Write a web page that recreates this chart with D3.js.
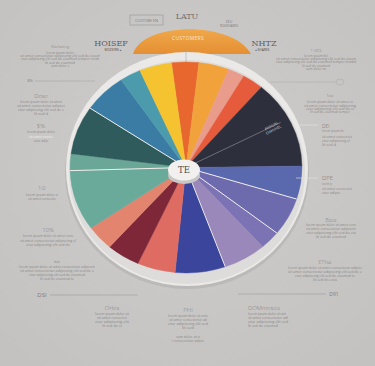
<!DOCTYPE html>
<html><head><meta charset="utf-8">
<script src="https://cdn.jsdelivr.net/npm/d3@7"></script>
<style>html,body{margin:0;padding:0;background:#c9c7c6;}svg{display:block;font-family:"Open Sans",sans-serif;}</style>
</head><body>
<script>
// ---- data ----
const categories = ["Orange","Amber","Blush","Vermilion","Midnight","Indigo","Violet","Iris","Lavender","Royal","Coral","Maroon","Salmon","Sage","Sage II","Pine","Steel","Lagoon","Sun"];
const values = [13.6,15.2,8.3,10.6,48.7,18.2,21.0,10.2,21.6,25.2,19.1,16.7,13.8,33.3,9.2,26.7,21.8,10.6,16.2];
const sliceColors = ["#e8672e","#f2a23a","#e99c8c","#e65b3c","#2d2f3c","#5a68ad","#6d6aae","#7b73b4","#9a88bb","#3a459b","#df6c62","#7d2739","#e3846f","#6aaa9b","#6ba797","#2f5b5c","#3b7ca4","#4b9bac","#f5c330"];
const whiteSplitAfter = ["Indigo","Violet","Lavender","Sage","Pine"];
const hubLabel = "TE";
const capLabel = "CUSTOMERS";
const headTitles = ["LATU","HOISEF","NHTZ"];
const noteTitles = ["Marketing","8%","Dese","$%","1/2","10%","dat","DSI","Orles","PHI","DOMmesea","D91","ETYsa","Baca","DPE","DEI","1 VIES","Total"];
const filler = "lorem ipsum dolor sit amet consectetur adipiscing elit sed do eiusmod tempor incididunt ut labore et dolore magna aliqua";

// ---- layout ----
const W = 375, H = 366;
const svg = d3.select("body").append("svg").attr("width", W).attr("height", H);
const defs = svg.append("defs");
const bg = defs.append("radialGradient").attr("id","bg").attr("cx","50%").attr("cy","45%").attr("r","70%");
bg.append("stop").attr("offset","0%").attr("stop-color","#cfcdcc");
bg.append("stop").attr("offset","100%").attr("stop-color","#c4c2c1");
svg.append("rect").attr("width",W).attr("height",H).attr("fill","url(#bg)");

const capG = defs.append("linearGradient").attr("id","cap").attr("x1",0).attr("y1",0).attr("x2",0).attr("y2",1);
capG.append("stop").attr("offset","0%").attr("stop-color","#efa84a");
capG.append("stop").attr("offset","100%").attr("stop-color","#e58f33");

const cx = 186, cy = 167.5, R = 116, sy = 0.91;

// orange cap
svg.append("path").attr("d","M133,54 C142,22 232,20 251,54 Z").attr("fill","url(#cap)");
svg.append("text").attr("x",188).attr("y",40).attr("text-anchor","middle").attr("font-size",5).attr("fill","#fbe3c4").attr("letter-spacing",0.3).text(capLabel);

// ring shadow + ring
svg.append("ellipse").attr("cx",187).attr("cy",173).attr("rx",122).attr("ry",116).attr("fill","#b5b3b1").attr("opacity",0.7);
svg.append("ellipse").attr("cx",187).attr("cy",169).attr("rx",121).attr("ry",117).attr("fill","#eae9e7");
svg.append("ellipse").attr("cx",187).attr("cy",172).attr("rx",118).attr("ry",112).attr("fill","#dddcda");
svg.append("line").attr("x1",186).attr("y1",50).attr("x2",186).attr("y2",62).attr("stroke","#a9a7a5").attr("stroke-width",0.6);

// pie
const pie = d3.pie().sort(null).value(d => d.v)
  .startAngle(-7.2 * Math.PI/180).endAngle(352.8 * Math.PI/180);
const arcs = pie(categories.map((c,i) => ({c, v: values[i], col: sliceColors[i]})));
const arc = d3.arc().innerRadius(0).outerRadius(R);
const pg = svg.append("g").attr("transform",`translate(${cx},${cy}) scale(1,${sy})`);
pg.selectAll("path.slice").data(arcs).join("path").attr("class","slice")
  .attr("d", arc).attr("fill", d => d.data.col).attr("stroke", d => d.data.col).attr("stroke-width",0.4);
pg.selectAll("line.split").data(arcs.filter(d => whiteSplitAfter.includes(d.data.c))).join("line").attr("class","split")
  .attr("x1",0).attr("y1",0)
  .attr("x2", d => R*Math.sin(d.endAngle)).attr("y2", d => -R*Math.cos(d.endAngle))
  .attr("stroke","#f4f2ef").attr("stroke-width",1);
// annotation line in dark slice
const mid = arcs[4];
const a4 = mid.startAngle + (mid.endAngle-mid.startAngle)*0.45;
pg.append("line").attr("x1",0).attr("y1",0).attr("x2",R*0.92*Math.sin(a4)).attr("y2",-R*0.92*Math.cos(a4)).attr("stroke","#9a9aa4").attr("stroke-width",0.6);
svg.append("text").attr("transform","translate(272,127) rotate(-27)").attr("text-anchor","middle").attr("font-size",3.6).attr("fill","#e6e6ea").text("ANNUAL");
svg.append("text").attr("transform","translate(274,131) rotate(-27)").attr("text-anchor","middle").attr("font-size",3.6).attr("fill","#e6e6ea").text("CHANNEL");

// hub
svg.append("ellipse").attr("cx",184).attr("cy",175).attr("rx",16).attr("ry",9).attr("fill","#c9c7c5");
svg.append("ellipse").attr("cx",184).attr("cy",170).attr("rx",16).attr("ry",10.5).attr("fill","#f1f0ee");
svg.append("text").attr("x",184).attr("y",173).attr("text-anchor","middle").attr("font-size",8.5).attr("font-family","DejaVu Serif").attr("fill","#4a4a4a").text(hubLabel);

// ---- annotations ----
const txtCol = "#7d7b79", lineCol = "#8a8886";
function note(x, y, title, tsize, lines, anchor, opts={}) {
  const g = svg.append("g");
  g.append("text").attr("x",x).attr("y",y).attr("text-anchor",anchor).attr("font-size",tsize)
    .attr("fill", opts.tcol || txtCol).attr("font-weight",300).text(title);
  lines.forEach((l,i) => {
    const [dy, w] = l;
    const lx = anchor === "middle" ? x - w/2 : (anchor === "end" ? x - w : x);
    g.append("text").attr("x",lx).attr("y",y+dy).attr("font-size",2.6)
      .attr("fill", l[2] || lineCol).attr("textLength",w).attr("lengthAdjust","spacingAndGlyphs")
      .text(filler.slice((i*17)%60, (i*17)%60 + Math.max(8, Math.round(w/1.6))));
  });
}
// top heads
svg.append("rect").attr("x",130).attr("y",15).attr("width",33).attr("height",10).attr("fill","none").attr("stroke","#8d8b89").attr("stroke-width",0.5);
svg.append("text").attr("x",146.5).attr("y",22).attr("text-anchor","middle").attr("font-size",4).attr("fill",txtCol).text("CUSTOM EN");
svg.append("text").attr("x",187).attr("y",19).attr("text-anchor","middle").attr("font-size",8).attr("font-family","DejaVu Serif").attr("fill","#6f6d6b").text(headTitles[0]);
svg.append("text").attr("x",229).attr("y",23).attr("text-anchor","middle").attr("font-size",3.5).attr("fill",txtCol).text("ZEU");
svg.append("text").attr("x",229).attr("y",27).attr("text-anchor","middle").attr("font-size",3.2).attr("fill",txtCol).text("ROKSHARES");
svg.append("text").attr("x",111).attr("y",46).attr("text-anchor","middle").attr("font-size",8).attr("font-family","DejaVu Serif").attr("fill","#5f5d5b").text(headTitles[1]);
svg.append("text").attr("x",113).attr("y",51).attr("text-anchor","middle").attr("font-size",3.3).attr("fill","#4f4d4b").text("MODERN  ▸");
svg.append("text").attr("x",264).attr("y",46).attr("text-anchor","middle").attr("font-size",8).attr("font-family","DejaVu Serif").attr("fill","#5f5d5b").text(headTitles[2]);
svg.append("text").attr("x",262).attr("y",51).attr("text-anchor","middle").attr("font-size",3.3).attr("fill","#4f4d4b").text("◂  SHARES");

// left column
note(60,48,noteTitles[0],4,[[6,28],[9,80],[12,78],[16,30],[19,18]],"middle");
svg.append("text").attr("x",30).attr("y",82).attr("font-size",4).attr("fill",txtCol).attr("text-anchor","middle").text(noteTitles[1]);
svg.append("line").attr("x1",35).attr("y1",81).attr("x2",95).attr("y2",81).attr("stroke","#a8a6a4").attr("stroke-width",0.6);
note(41,98,noteTitles[2],6,[[5,42],[9,48],[13,46],[17,14]],"middle");
note(41,128,noteTitles[3],6,[[5,28],[10,24,"#f2f1ef"],[14,14]],"middle");
note(42,190,noteTitles[4],5,[[6,32],[10,28]],"middle");
note(48,232,noteTitles[5],6,[[5,50],[10,56],[14,44]],"middle");
note(57,263,noteTitles[6],4,[[5,76],[9,74],[13,56],[17,34]],"middle");
svg.append("text").attr("x",42).attr("y",297).attr("font-size",6).attr("fill",txtCol).attr("text-anchor","middle").text(noteTitles[7]);
svg.append("line").attr("x1",50).attr("y1",295).attr("x2",138).attr("y2",295).attr("stroke","#a3a19f").attr("stroke-width",0.7);
note(112,310,noteTitles[8],6,[[5,34],[9,30],[13,34],[17,20]],"middle");
// bottom center
note(188,312,noteTitles[9],6,[[5,40],[9,38],[13,40],[17,12],[26,24],[30,32]],"middle");
// bottom right
note(248,310,noteTitles[10],6,[[5,38],[9,40],[13,40],[17,30]],"start");
svg.append("line").attr("x1",238).attr("y1",294).attr("x2",326).attr("y2",294).attr("stroke","#a3a19f").attr("stroke-width",0.7);
svg.append("text").attr("x",334).attr("y",296).attr("font-size",5).attr("fill",txtCol).attr("text-anchor","middle").text(noteTitles[11]);
// right column
note(325,264,noteTitles[12],5,[[5,74],[9,74],[13,60],[17,24]],"middle");
note(331,222,noteTitles[13],5,[[4,50],[8,50],[12,50],[16,30]],"middle");
note(322,180,noteTitles[14],6,[[5,10],[10,30],[14,18]],"start",{tcol:"#6b6967"});
svg.append("line").attr("x1",296).attr("y1",178).attr("x2",318).attr("y2",178).attr("stroke","#e6e5e3").attr("stroke-width",0.6);
note(322,128,noteTitles[15],5,[[4,22],[10,30],[14,28],[18,14]],"start",{tcol:"#6b6967"});
svg.append("line").attr("x1",300).attr("y1",125).attr("x2",318).attr("y2",125).attr("stroke","#e6e5e3").attr("stroke-width",0.6);
note(330,97,noteTitles[17],3,[[6,46],[10,52],[13,48],[16,40]],"middle");
svg.append("line").attr("x1",270).attr("y1",82).attr("x2",336).attr("y2",82).attr("stroke","#b0aeac").attr("stroke-width",0.6);
svg.append("ellipse").attr("cx",340).attr("cy",82).attr("rx",4).attr("ry",3).attr("fill","none").attr("stroke","#a8a6a4").attr("stroke-width",0.5);
note(316,52,noteTitles[16],4,[[5,24],[8,80],[11,80],[15,28],[18,20]],"middle");
</script>
</body></html>
